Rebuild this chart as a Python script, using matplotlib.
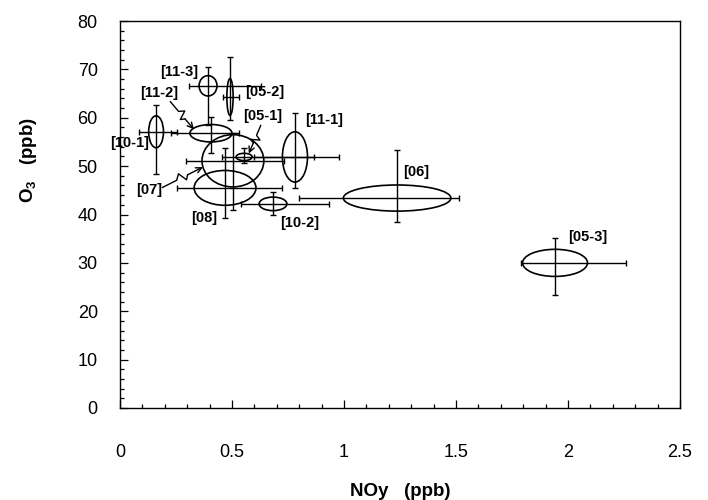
import matplotlib
matplotlib.use("Agg")
import numpy as np
import matplotlib.pyplot as plt
from matplotlib.patches import Ellipse
from matplotlib.lines import Line2D
from matplotlib.transforms import IdentityTransform
from matplotlib.ticker import MultipleLocator

# ---- data ----
labels = ['[10-1]', '[11-2]', '[11-3]', '[05-2]', '[05-1]', '[07]', '[08]',
          '[11-1]', '[10-2]', '[06]', '[05-3]']
noy_mean = [0.161, 0.406, 0.393, 0.491, 0.554, 0.504, 0.469, 0.781, 0.683, 1.237, 1.942]
o3_mean = [57.1, 56.8, 66.6, 64.3, 51.9, 51.1, 45.5, 51.9, 42.2, 43.4, 30.0]
noy_sd = [0.033, 0.094, 0.040, 0.014, 0.036, 0.138, 0.138, 0.056, 0.062, 0.240, 0.145]
o3_sd = [3.3, 1.8, 2.1, 3.8, 0.75, 5.4, 3.6, 5.2, 1.4, 2.7, 2.8]
noy_min = [0.085, 0.228, 0.308, 0.460, 0.455, 0.295, 0.254, 0.598, 0.540, 0.800, 1.790]
noy_max = [0.254, 0.531, 0.629, 0.530, 0.866, 0.732, 0.723, 0.978, 0.933, 1.513, 2.259]
o3_min = [48.4, 52.7, 58.5, 59.5, 50.6, 40.9, 39.3, 45.5, 39.9, 38.5, 23.4]
o3_max = [62.6, 60.2, 70.5, 72.6, 53.7, 56.8, 53.7, 61.0, 44.7, 53.3, 35.1]

xticks = [0, 0.5, 1, 1.5, 2, 2.5]
xticklabels = ['0', '0.5', '1', '1.5', '2', '2.5']
yticks = [0, 10, 20, 30, 40, 50, 60, 70, 80]

# label text positions (layout)
label_pos = {
    '[10-1]': (0.045, 54.8), '[11-2]': (0.175, 65.1), '[11-3]': (0.263, 69.4),
    '[05-2]': (0.645, 65.3), '[05-1]': (0.635, 60.4), '[07]': (0.130, 45.1),
    '[08]': (0.375, 39.3), '[11-1]': (0.910, 59.5), '[10-2]': (0.800, 38.2),
    '[06]': (1.320, 48.8), '[05-3]': (2.090, 35.3),
}
arrows = {
    '[11-2]': ((0.225, 63.3), (0.330, 57.6)),
    '[05-1]': ((0.628, 58.4), (0.575, 52.6)),
    '[07]': ((0.190, 45.6), (0.370, 49.8)),
}

plt.rcParams['font.family'] = ['Liberation Sans', 'DejaVu Sans']

fig = plt.figure(figsize=(7.08, 5.0), dpi=100)
ax = fig.add_axes([0.1695, 0.184, 0.791, 0.774])
ax.set_xlim(0, 2.5)
ax.set_ylim(0, 80)

for i, lab in enumerate(labels):
    ax.errorbar(noy_mean[i], o3_mean[i],
                xerr=[[noy_mean[i] - noy_min[i]], [noy_max[i] - noy_mean[i]]],
                yerr=[[o3_mean[i] - o3_min[i]], [o3_max[i] - o3_mean[i]]],
                fmt='none', ecolor='black', elinewidth=1.0, capsize=2.5, capthick=1.0)
    ax.add_patch(Ellipse((noy_mean[i], o3_mean[i]), 2 * noy_sd[i], 2 * o3_sd[i],
                         fill=False, edgecolor='black', linewidth=1.2))
    tx, ty = label_pos[lab]
    ax.text(tx, ty, lab, ha='center', va='center', fontsize=10.5, fontweight='bold',
            family=['Liberation Sans Narrow', 'Liberation Sans', 'DejaVu Sans'],
            clip_on=False)

# squiggly pointer arrows
for lab, (start, end) in arrows.items():
    p0 = ax.transData.transform(start)
    p1 = ax.transData.transform(end)
    d = p1 - p0
    L = np.hypot(*d)
    n = np.array([-d[1], d[0]]) / L
    pts = np.array([p0, p0 + 0.35 * d, p0 + 0.45 * d + 5 * n,
                    p0 + 0.55 * d - 4 * n, p0 + 0.62 * d])
    fig.add_artist(Line2D(pts[:, 0], pts[:, 1], transform=IdentityTransform(),
                          color='black', lw=1.0))
    ax.annotate('', xy=tuple(p1), xycoords='figure pixels',
                xytext=tuple(pts[-1]), textcoords='figure pixels',
                arrowprops=dict(arrowstyle='->', color='black', lw=1.0,
                                shrinkA=0, shrinkB=0))

ax.set_xticks(xticks)
ax.set_xticklabels(xticklabels)
ax.set_yticks(yticks)
ax.xaxis.set_minor_locator(MultipleLocator(0.1))
ax.yaxis.set_minor_locator(MultipleLocator(2))
ax.tick_params(axis='both', which='both', direction='in', top=False, right=False,
               labelsize=13, width=0.9)
ax.tick_params(axis='x', which='major', length=6, pad=26)
ax.tick_params(axis='y', which='major', length=6, pad=16)
ax.tick_params(axis='both', which='minor', length=3)
for s in ax.spines.values():
    s.set_linewidth(1.0)

ax.set_xlabel('NOy   (ppb)', fontsize=13.5, fontweight='bold')
ax.set_ylabel('O$_\\mathregular{3}$   (ppb)', fontsize=13.5, fontweight='bold')
ax.xaxis.set_label_coords(0.5, -0.195)
ax.yaxis.set_label_coords(-0.145, 0.64)

fig.savefig('out.png', dpi=100)
